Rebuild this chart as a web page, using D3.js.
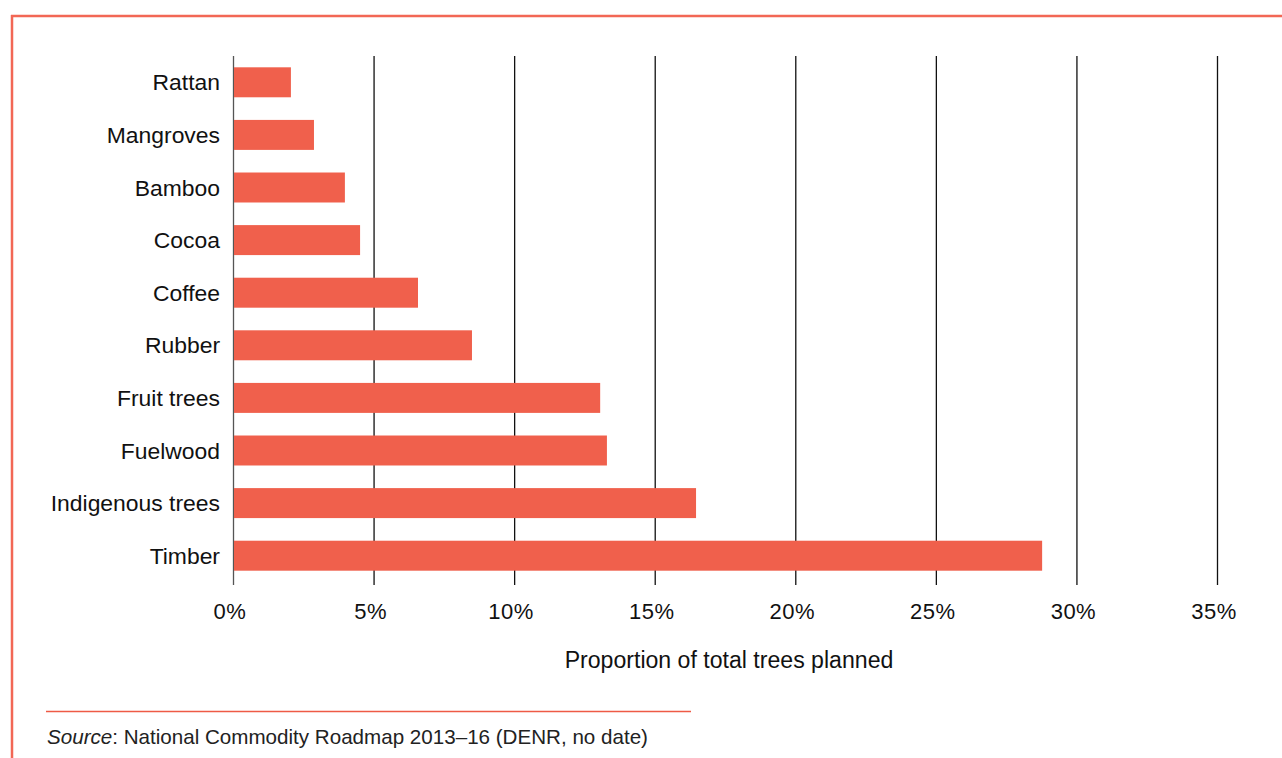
<!DOCTYPE html>
<html><head><meta charset="utf-8">
<script src="https://cdn.jsdelivr.net/npm/d3@7"></script>
<style>
html,body{margin:0;padding:0;background:#fff;}
svg{display:block;font-family:"Liberation Sans",Arial,sans-serif;}
</style></head>
<body>
<svg id="chart" width="1282" height="758"></svg>
<script>
const categories = ["Rattan","Mangroves","Bamboo","Cocoa","Coffee","Rubber","Fruit trees","Fuelwood","Indigenous trees","Timber"];
const values = [2.06, 2.88, 3.98, 4.52, 6.58, 8.5, 13.06, 13.3, 16.47, 28.78];
const tickValues = [0,5,10,15,20,25,30,35];
const tickLabels = ["0%","5%","10%","15%","20%","25%","30%","35%"];
const xTitle = "Proportion of total trees planned";
const sourceLabel = "Source";
const sourceText = ": National Commodity Roadmap 2013–16 (DENR, no date)";

const svg = d3.select("#chart");
const red = "#f0604c";

// frame
svg.append("line").attr("x1",11).attr("x2",1282).attr("y1",16).attr("y2",16).attr("stroke","#f26755").attr("stroke-width",2.5);
svg.append("line").attr("x1",12).attr("x2",12).attr("y1",15).attr("y2",758).attr("stroke","#f26755").attr("stroke-width",2.5);

const x = d3.scaleLinear().domain([0,35]).range([233,1217]);
const y = d3.scaleBand().domain(categories).range([56,582]).paddingInner(0.43).paddingOuter(0.215);

// grid lines
svg.append("g").selectAll("line").data(tickValues).join("line")
  .attr("x1",d=>x(d)+0.5).attr("x2",d=>x(d)+0.5)
  .attr("y1",56).attr("y2",585)
  .attr("stroke",(d,i)=>i===0?"#555":"#111").attr("stroke-width",1.3);

// bars
svg.append("g").selectAll("rect").data(values).join("rect")
  .attr("x",x(0)+1).attr("y",(d,i)=>y(categories[i]))
  .attr("width",d=>x(d)-x(0)-1).attr("height",y.bandwidth())
  .attr("fill",red);

// category labels
svg.append("g").selectAll("text").data(categories).join("text")
  .attr("x",220).attr("y",d=>y(d)+y.bandwidth()/2)
  .attr("dy","0.35em").attr("text-anchor","end")
  .attr("font-size",22.9).attr("fill","#111").text(d=>d);

// tick labels
svg.append("g").selectAll("text").data(tickValues).join("text")
  .attr("x",d=>x(d)-3).attr("y",611).attr("dy","0.35em").attr("text-anchor","middle")
  .attr("font-size",22).attr("letter-spacing",0.5).attr("fill","#111").text((d,i)=>tickLabels[i]);

// axis title
svg.append("text").attr("x",729).attr("y",660).attr("dy","0.35em").attr("text-anchor","middle")
  .attr("font-size",23.1).attr("fill","#111").text(xTitle);

// source
svg.append("line").attr("x1",46).attr("x2",691).attr("y1",711.5).attr("y2",711.5).attr("stroke","#ee5a45").attr("stroke-width",1.5);
const src = svg.append("text").attr("x",47).attr("y",737).attr("dy","0.35em").attr("font-size",20.6).attr("fill","#222");
src.append("tspan").attr("font-style","italic").text(sourceLabel);
src.append("tspan").text(sourceText);
</script>
</body></html>
